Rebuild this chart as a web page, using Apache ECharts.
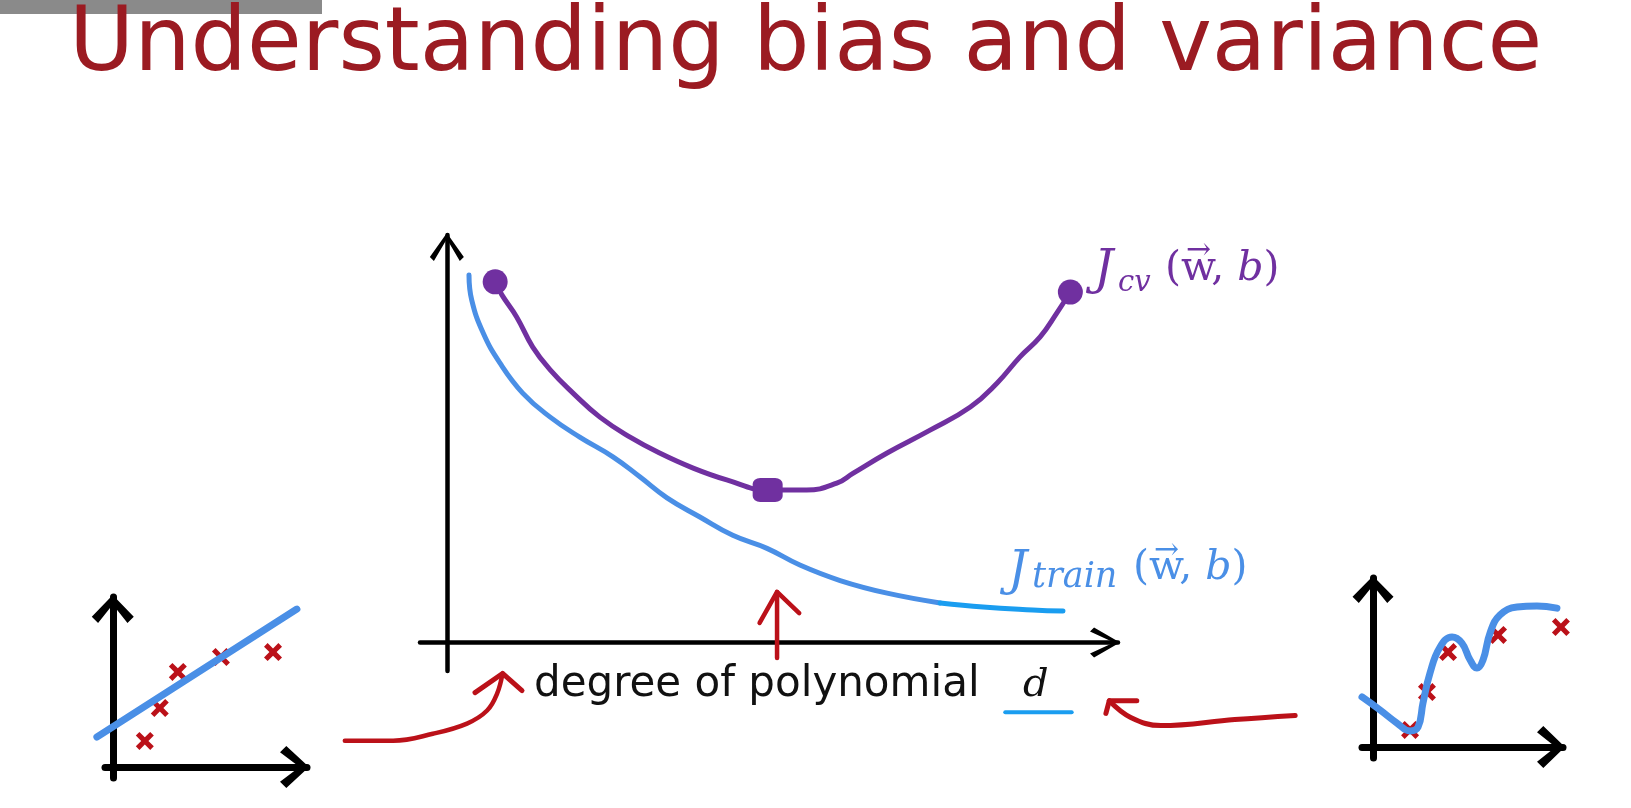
<!DOCTYPE html>
<html>
<head>
<meta charset="utf-8">
<title>Understanding bias and variance</title>
<script src="https://cdn.jsdelivr.net/npm/echarts@6/dist/echarts.min.js"></script>
<style>
  html, body { margin: 0; padding: 0; background: #fff; }
  #chart { width: 1631px; height: 808px; }
</style>
</head>
<body>
<div id="chart"></div>
<script>
// main plot, cost vs. degree (arbitrary units)
const jTrain = [[0.33, 9.02], [0.37, 8.41], [0.54, 7.60], [0.79, 6.86], [1.13, 6.12], [1.54, 5.53], [1.98, 5.04], [2.48, 4.55], [2.88, 4.06], [3.28, 3.55], [3.77, 3.08], [4.26, 2.63], [4.77, 2.31], [5.26, 1.90], [5.86, 1.52], [6.56, 1.21], [7.35, 0.97]];
const jTrainTail = [[7.35, 0.97], [7.99, 0.87], [8.73, 0.80], [9.18, 0.77]];
const jCv = [[0.72, 8.85], [0.82, 8.53], [1.04, 7.99], [1.28, 7.25], [1.54, 6.69], [1.88, 6.12], [2.28, 5.53], [2.73, 5.04], [3.17, 4.65], [3.67, 4.28], [4.17, 3.99], [4.78, 3.74], [5.36, 3.74], [5.81, 3.91], [6.05, 4.15], [6.56, 4.65], [7.20, 5.21], [7.80, 5.78], [8.20, 6.37], [8.54, 7.01], [8.84, 7.50], [9.09, 8.09], [9.29, 8.60]];
const jCvDots = [[0.72, 8.85], [4.78, 3.74], [9.29, 8.60]];

// red pen arrows and the underline, same units as the main plot
const arrowUpShaft = [[4.92, -0.38], [4.92, 1.24]];
const arrowUpHead = [[4.66, 0.48], [4.92, 1.24], [5.25, 0.72]];
const arrowLeftCurve = [[-1.52, -2.41], [-0.80, -2.41], [-0.21, -2.24], [0.30, -1.99], [0.60, -1.67], [0.75, -1.25], [0.83, -0.76]];
const arrowLeftHead = [[0.42, -1.23], [0.83, -0.76], [1.12, -1.18]];
const arrowRightCurve = [[12.64, -1.79], [11.74, -1.89], [10.64, -2.04], [10.19, -1.84], [9.87, -1.43]];
const arrowRightHead = [[9.82, -1.74], [9.87, -1.43], [10.28, -1.43]];
const dUnderline = [[8.32, -1.71], [9.31, -1.71]];

// small plots: underfit (left) and overfit (right)
const lowFitLine = [[-0.82, 1.76], [9.48, 9.29]];
const lowPoints = [[1.65, 1.53], [2.42, 3.47], [3.35, 5.59], [5.57, 6.47], [8.25, 6.76]];
const highFitCurve = [[-0.58, 2.96], [0.37, 2.19], [1.26, 1.42], [1.95, 0.95], [2.37, 1.18], [2.63, 2.60], [3.00, 4.38], [3.53, 5.92], [4.16, 6.51], [4.68, 6.15], [5.11, 5.15], [5.47, 4.67], [5.79, 5.15], [6.16, 6.75], [6.68, 7.81], [7.58, 8.28], [8.63, 8.34], [9.68, 8.22]];
const highPoints = [[1.95, 1.01], [2.84, 3.25], [3.95, 5.62], [6.58, 6.63], [9.89, 7.10]];

const RED = '#bb1119';
const PURPLE = '#7030a0';
const BLUE = '#4a8fe6';
const CYAN = '#1a9df0';
const CROSS = 'path://M0,4 L4,0 L10,6 L16,0 L20,4 L14,10 L20,16 L16,20 L10,14 L4,20 L0,16 L6,10 Z';

// open hand-drawn style arrow head, pointing up
function chevron(w, h, t) {
  return 'path://M' + w / 2 + ',0 L' + w + ',' + (h - t) + ' L' + (w - t) + ',' + h +
    ' L' + w / 2 + ',' + (t * 1.5) + ' L' + t + ',' + h + ' L0,' + (h - t) + ' Z';
}

function axis(gridIndex, min, max, width, size) {
  return {
    type: 'value', gridIndex: gridIndex, min: min, max: max,
    axisLine: {
      show: true, onZero: true,
      symbol: ['none', chevron(size[0], size[1], width * 0.9)],
      symbolSize: size,
      symbolOffset: [0, -size[1] / 2 + 2],
      lineStyle: { color: '#000', width: width }
    },
    axisTick: { show: false }, axisLabel: { show: false }, splitLine: { show: false }
  };
}

// invisible axes for overlay grids (pen strokes that run past the drawn axes)
function hidden(gridIndex, min, max) {
  return { type: 'value', gridIndex: gridIndex, min: min, max: max, show: false, splitLine: { show: false } };
}

function pen(data, color, width, idx, smooth) {
  return {
    type: 'line', data: data, xAxisIndex: idx, yAxisIndex: idx,
    showSymbol: false, smooth: smooth || false, clip: false, z: 4,
    lineStyle: { color: color, width: width, cap: 'round', join: 'round' }
  };
}

function crosses(data, idx) {
  return {
    type: 'scatter', data: data, xAxisIndex: idx, yAxisIndex: idx, z: 2,
    symbol: CROSS, symbolSize: 18, itemStyle: { color: RED, opacity: 1 }
  };
}

function txt(x, y, text, size, color, family, italic) {
  return {
    type: 'text', x: x, y: y, silent: true,
    style: {
      text: text, fill: color, fontSize: size, fontFamily: family,
      fontStyle: italic ? 'italic' : 'normal', align: 'left', verticalAlign: 'middle'
    }
  };
}

function wb(x, y, color) {
  return {
    type: 'text', x: x, y: y, silent: true,
    style: {
      text: '{n|(w, }{i|b}{n|)}', fill: color, align: 'left', verticalAlign: 'middle',
      rich: {
        n: { fontFamily: 'DejaVu Serif', fontSize: 41, fill: color },
        i: { fontFamily: 'DejaVu Serif', fontSize: 41, fontStyle: 'italic', fill: color }
      }
    }
  };
}

const chart = echarts.init(document.getElementById('chart'));
chart.setOption({
  animation: false,
  backgroundColor: '#fff',
  grid: [
    { left: 420, top: 235, width: 698, height: 436 },
    { left: 105, top: 597, width: 202, height: 181 },
    { left: 1362, top: 578, width: 201, height: 180 },
    { left: 339.46, top: 585.43, width: 966.46, height: 162.99 },
    { left: 93.4, top: 597, width: 213.6, height: 181 }
  ],
  xAxis: [
    axis(0, -0.4, 10, 4.5, [30, 30]),
    axis(1, -0.4, 10, 7, [42, 29]),
    axis(2, -0.58, 10, 7, [42, 28]),
    hidden(3, -1.6, 12.8),
    hidden(4, -1, 10)
  ],
  yAxis: [
    axis(0, -0.7, 10, 4.5, [34, 28]),
    axis(1, -0.65, 10, 7, [42, 28]),
    axis(2, -0.65, 10, 7, [41, 27]),
    hidden(3, -2.6, 1.4),
    hidden(4, -0.65, 10)
  ],
  series: [
    pen(jTrain, BLUE, 5, 0, 0.45),
    pen(jTrainTail, CYAN, 5, 0, 0.45),
    pen(jCv, PURPLE, 5, 0, 0.45),
    {
      type: 'scatter', data: jCvDots, z: 5,
      symbol: function (v, p) { return p.dataIndex === 1 ? 'roundRect' : 'circle'; },
      symbolSize: function (v, p) { return p.dataIndex === 1 ? [30, 24] : 25; },
      itemStyle: { color: PURPLE, opacity: 1 }
    },
    pen(arrowUpShaft, RED, 4.5, 3),
    pen(arrowUpHead, RED, 4.5, 3),
    pen(arrowLeftCurve, RED, 4.5, 3, 0.4),
    pen(arrowLeftHead, RED, 5, 3),
    pen(arrowRightCurve, RED, 5, 3, 0.4),
    pen(arrowRightHead, RED, 5, 3),
    pen(dUnderline, CYAN, 4, 3),
    crosses(lowPoints, 1),
    pen(lowFitLine, BLUE, 7, 4),
    crosses(highPoints, 2),
    pen(highFitCurve, BLUE, 7, 2, 0.45)
  ],
  graphic: [
    { type: 'rect', silent: true, shape: { x: 0, y: 0, width: 322, height: 14 }, style: { fill: '#8a8a8a' } },
    txt(69, 47, 'Understanding bias and variance', 89, '#9b1b22', 'DejaVu Sans'),
    txt(534, 685, 'degree of polynomial', 42, '#111', 'DejaVu Sans'),
    txt(1023, 686, 'd', 40, '#111', 'DejaVu Serif', true),
    // J_cv(w, b)
    txt(1094, 272, 'J', 48, PURPLE, 'DejaVu Serif', true),
    txt(1118, 283, 'cv', 29, PURPLE, 'DejaVu Serif', true),
    wb(1165, 269, PURPLE),
    txt(1186, 251, '\u2192', 30, PURPLE, 'DejaVu Serif'),
    // J_train(w, b)
    txt(1008, 573, 'J', 48, BLUE, 'DejaVu Serif', true),
    txt(1032, 578, 'train', 35, BLUE, 'DejaVu Serif', true),
    wb(1133, 568, BLUE),
    txt(1154, 551, '\u2192', 30, BLUE, 'DejaVu Serif')
  ]
});
</script>
</body>
</html>
